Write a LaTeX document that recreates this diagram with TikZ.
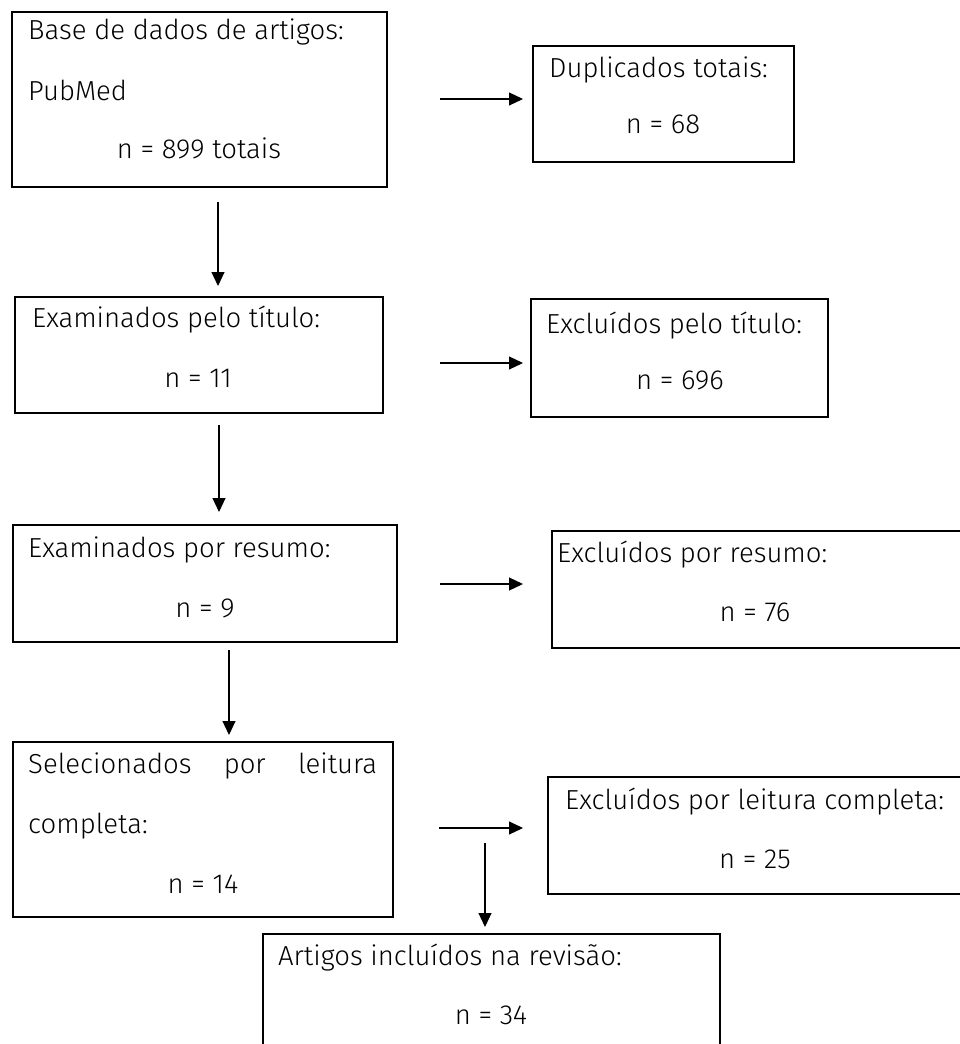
\documentclass[tikz,border=0pt]{standalone}
\usepackage{fontspec}
\setmainfont{Fira Sans}[UprightFont={* Light}]
\usetikzlibrary{arrows.meta}
\begin{document}
\begin{tikzpicture}[x=1pt,y=-1pt,
  box/.style={draw=black,line width=2pt},
  txt/.style={inner sep=0pt,anchor=base west,font=\fontsize{27.5}{32}\selectfont},
  ctxt/.style={inner sep=0pt,anchor=base,font=\fontsize{27.5}{32}\selectfont},
  arr/.style={draw=black,line width=1.1pt,-{Triangle[length=14pt,width=13pt]}}]
\useasboundingbox (0,0) rectangle (960,1044);
\clip (0,0) rectangle (960,1044);
% boxes
\draw[box] (12,12) rectangle (387,187);
\draw[box] (533,46) rectangle (794,162);
\draw[box] (15,297) rectangle (383,413);
\draw[box] (531,299) rectangle (828,417);
\draw[box] (13,525) rectangle (397,642);
\draw[box] (552,531) rectangle (962,648);
\draw[box] (13,742) rectangle (393,917);
\draw[box] (548,777) rectangle (962,894);
\draw[box] (263,934) rectangle (720,1050);
% texts
\node[txt] (t1a) at (28,39) {Base de dados de artigos:};
\node[txt] (t1b) at (28,100) {PubMed};
\node[ctxt] (t1c) at (199,158) {n = 899 totais};
\node[txt] (t2a) at (549,77) {Duplicados totais:};
\node[ctxt] (t2b) at (663,133) {n = 68};
\node[txt] (t3a) at (32,327) {Examinados pelo título:};
\node[ctxt] (t3b) at (198,387) {n = 11};
\node[txt] (t4a) at (546,333) {Excluídos pelo título:};
\node[ctxt] (t4b) at (680,389) {n = 696};
\node[txt] (t5a) at (28,557) {Examinados por resumo:};
\node[ctxt] (t5b) at (205,617) {n = 9};
\node[txt] (t6a) at (557,562) {Excluídos por resumo:};
\node[ctxt] (t6b) at (755,621) {n = 76};
\node[txt] (t7a) at (28,773) {\makebox[349pt][s]{Selecionados\hfill por\hfill leitura}};
\node[txt] (t7b) at (28,833) {completa:};
\node[ctxt] (t7c) at (203,893) {n = 14};
\node[txt] (t8a) at (565,809) {Excluídos por leitura completa:};
\node[ctxt] (t8b) at (755,868) {n = 25};
\node[txt] (t9a) at (278,965) {Artigos incluídos na revisão:};
\node[ctxt] (t9b) at (491,1024) {n = 34};
% arrow coordinates
\coordinate (h1s) at (440,99);  \coordinate (h1e) at (523,99);
\coordinate (v1s) at (218,202); \coordinate (v1e) at (218,286);
\coordinate (h2s) at (440,363); \coordinate (h2e) at (523,363);
\coordinate (v2s) at (219,425); \coordinate (v2e) at (219,512);
\coordinate (h3s) at (440,584); \coordinate (h3e) at (523,584);
\coordinate (v3s) at (229,650); \coordinate (v3e) at (229,735);
\coordinate (h4s) at (439,828); \coordinate (h4e) at (523,828);
\coordinate (v4s) at (485,843); \coordinate (v4e) at (485,927);
\draw[arr] (h1s) -- (h1e);
\draw[arr] (v1s) -- (v1e);
\draw[arr] (h2s) -- (h2e);
\draw[arr] (v2s) -- (v2e);
\draw[arr] (h3s) -- (h3e);
\draw[arr] (v3s) -- (v3e);
\draw[arr] (h4s) -- (h4e);
\draw[arr] (v4s) -- (v4e);
\end{tikzpicture}
\end{document}
